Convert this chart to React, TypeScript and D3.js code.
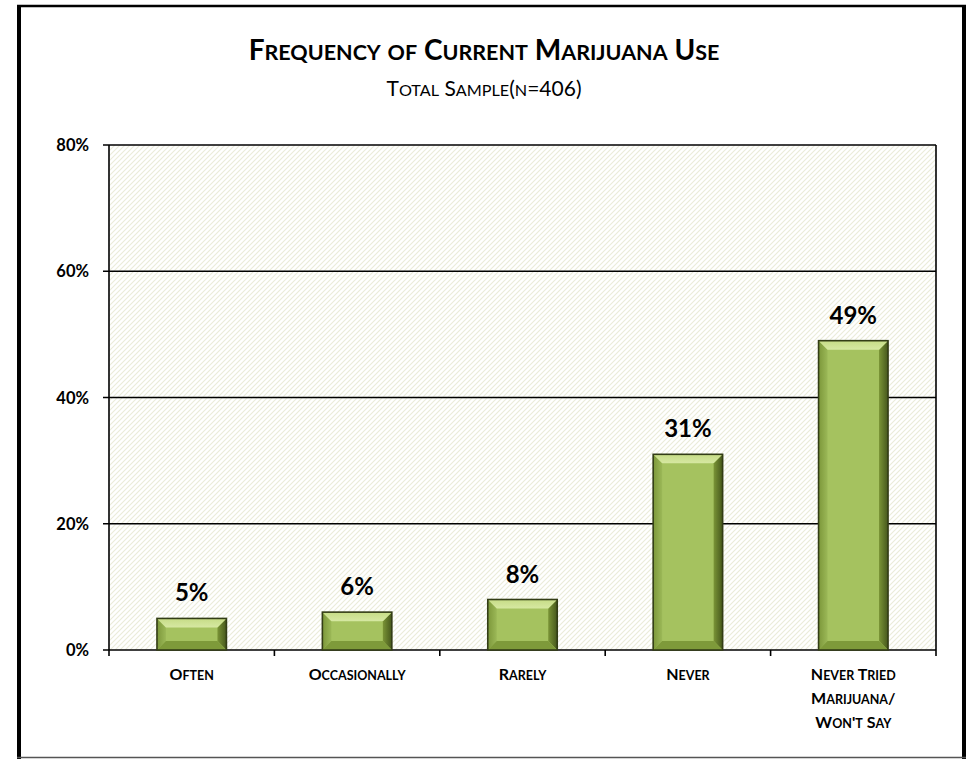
import React from "react";
import * as d3 from "d3";

const categories = ["Often", "Occasionally", "Rarely", "Never", "Never Tried Marijuana/ Won't Say"];
const categoryLines: string[][] = [
  ["Often"],
  ["Occasionally"],
  ["Rarely"],
  ["Never"],
  ["Never Tried", "Marijuana/", "Won't Say"],
];
const values = [5, 6, 8, 31, 49];
const valueLabels = ["5%", "6%", "8%", "31%", "49%"];
const yTicks = [0, 20, 40, 60, 80];

const FONT = "Lato, 'Open Sans', sans-serif";

// Render text in small caps: uppercase letters full size, lowercase -> uppercase smaller
function smallCaps(text: string, big: number, small: number, keyPrefix: string) {
  const parts: { t: string; s: number }[] = [];
  for (const ch of text) {
    const isLower = ch !== ch.toUpperCase();
    const size = isLower ? small : big;
    const c = ch.toUpperCase();
    if (parts.length && parts[parts.length - 1].s === size) parts[parts.length - 1].t += c;
    else parts.push({ t: c, s: size });
  }
  return parts.map((p, i) => (
    <tspan key={keyPrefix + i} fontSize={p.s}>
      {p.t}
    </tspan>
  ));
}

export default function App() {
  const W = 968;
  const H = 759;
  const left = 109;
  const right = 936;
  const top = 145;
  const bottom = 650;

  const x = d3.scaleBand<string>().domain(categories).range([left, right]).paddingInner(0.58).paddingOuter(0.29);
  const band = d3.scaleBand<string>().domain(categories).range([left, right]);
  const y = d3.scaleLinear().domain([0, 80]).range([bottom, top]);

  const bw = x.bandwidth();

  return (
    <svg width={W} height={H} style={{ position: "absolute", left: 0, top: 0 }} fontFamily={FONT}>
      <defs>
        <pattern id="hatch" width="5" height="5" patternUnits="userSpaceOnUse">
          <rect width="5" height="5" fill="#ffffff" />
          <path d="M-1,1 l2,-2 M0,5 l5,-5 M4,6 l2,-2" stroke="#eaecd9" strokeWidth="1.1" />
        </pattern>
        <linearGradient id="rightBevel" x1="0" x2="1" y1="0" y2="0">
          <stop offset="0" stopColor="#7a9436" />
          <stop offset="1" stopColor="#46571c" />
        </linearGradient>
        <linearGradient id="leftBevel" x1="0" x2="1" y1="0" y2="0">
          <stop offset="0" stopColor="#7c973a" />
          <stop offset="1" stopColor="#9bb857" />
        </linearGradient>
        <linearGradient id="topBevel" x1="0" x2="0" y1="0" y2="1">
          <stop offset="0" stopColor="#c6dc86" />
          <stop offset="1" stopColor="#d6e8a2" />
        </linearGradient>
      </defs>
      <rect x={0} y={0} width={W} height={H} fill="#ffffff" />
      {/* outer frame */}
      <line x1={19} y1={5} x2={19} y2={759} stroke="#000" strokeWidth={4} />
      <line x1={17} y1={6} x2={966} y2={6} stroke="#000" strokeWidth={2.5} />
      <line x1={964} y1={5} x2={964} y2={759} stroke="#000" strokeWidth={4} />
      <line x1={17} y1={757.5} x2={966} y2={757.5} stroke="#555" strokeWidth={1.5} />

      {/* title */}
      <text x={484} y={60} textAnchor="middle" fontWeight="bold" fill="#000">
        {smallCaps("Frequency of Current Marijuana Use", 28, 21.5, "t")}
      </text>
      <text x={484} y={96} textAnchor="middle" fill="#000">
        {smallCaps("Total Sample(n=406)", 21, 16.2, "s")}
      </text>

      {/* plot background */}
      <rect x={left} y={top} width={right - left} height={bottom - top} fill="url(#hatch)" />

      {/* gridlines & y ticks */}
      {yTicks.map((t) => (
        <g key={t}>
          <line x1={left - 6} x2={right} y1={y(t)} y2={y(t)} stroke="#000" strokeWidth={1.6} />
          <text x={89} y={y(t) + 6} textAnchor="end" fontWeight="bold" fontSize={16.5} fill="#000">
            {t + "%"}
          </text>
        </g>
      ))}
      <line x1={left} x2={left} y1={top} y2={bottom} stroke="#000" strokeWidth={1.6} />
      <line x1={right} x2={right} y1={top} y2={bottom + 6} stroke="#000" strokeWidth={1.6} />
      {categories.map((c) => (
        <line key={c} x1={band(c)!} x2={band(c)!} y1={bottom} y2={bottom + 6} stroke="#000" strokeWidth={1.6} />
      ))}

      {/* bars */}
      {categories.map((c, i) => {
        const x0 = x(c)!;
        const x1 = x0 + bw;
        const y0 = y(values[i]);
        const y1 = bottom;
        const b = 9;
        return (
          <g key={c}>
            <rect x={x0} y={y0} width={bw} height={y1 - y0} fill="#a5c25f" />
            <polygon points={`${x0},${y0} ${x0 + b},${y0 + b} ${x0 + b},${y1 - b} ${x0},${y1}`} fill="url(#leftBevel)" />
            <polygon points={`${x1},${y0} ${x1 - b},${y0 + b} ${x1 - b},${y1 - b} ${x1},${y1}`} fill="url(#rightBevel)" />
            <polygon points={`${x0},${y0} ${x1},${y0} ${x1 - b},${y0 + b} ${x0 + b},${y0 + b}`} fill="url(#topBevel)" />
            <polygon points={`${x0},${y1} ${x1},${y1} ${x1 - b},${y1 - b} ${x0 + b},${y1 - b}`} fill="#7e9a3a" />
            <rect x={x0} y={y0} width={bw} height={y1 - y0} fill="none" stroke="#333d16" strokeWidth={1.6} />
            <text x={x0 + bw / 2} y={y0 - 17} textAnchor="middle" fontWeight="bold" fontSize={24} fill="#000">
              {valueLabels[i]}
            </text>
          </g>
        );
      })}

      {/* x labels */}
      {categories.map((c, i) => (
        <g key={"l" + c}>
          {categoryLines[i].map((line, j) => (
            <text
              key={j}
              x={band(c)! + band.bandwidth() / 2}
              y={680 + j * 24}
              textAnchor="middle"
              fontWeight="bold"
              fill="#000"
            >
              {smallCaps(line, 16, 12.5, "x" + i + j)}
            </text>
          ))}
        </g>
      ))}
    </svg>
  );
}
